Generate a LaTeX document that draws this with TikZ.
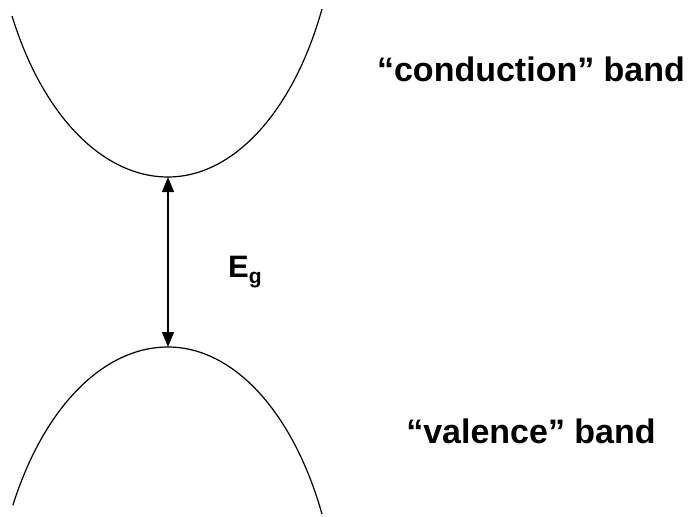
\documentclass[tikz,border=0pt]{standalone}
\usepackage{fontspec}
\setmainfont{Liberation Sans}
\usetikzlibrary{arrows.meta}

\begin{document}
\begin{tikzpicture}[
  x=1pt, y=-1pt,
  band/.style={line width=1.2pt, draw=black},
  gap/.style={{Triangle[length=15pt,width=12pt]}-{Triangle[length=15pt,width=12pt]}, line width=1.2pt},
  lbl/.style={font=\fontsize{34pt}{40pt}\bfseries\selectfont, inner sep=0pt, anchor=base}
]
\useasboundingbox (0,0) rectangle (692,516);
\coordinate (cbot) at (168,177);
\coordinate (vtop) at (168,347);
% bands
\draw[band] (cbot) arc[start angle=90, end angle=152.4, x radius=176, y radius=300];
\draw[band] (cbot) arc[start angle=90, end angle=26.1, x radius=171.5, y radius=300];
\draw[band] (vtop) arc[start angle=-90, end angle=-151.8, x radius=176, y radius=300];
\draw[band] (vtop) arc[start angle=-90, end angle=-26.3, x radius=171.8, y radius=300];
\draw[gap] (cbot) -- (vtop);
\node[lbl] (cond) at (531,82) {“conduction” band};
\node[lbl] (val) at (531,443) {“valence” band};
\node[lbl, anchor=base west, font=\fontsize{31pt}{36pt}\bfseries\selectfont] (eg) at (228,277) {E\raisebox{-6pt}{\fontsize{21pt}{24pt}\selectfont g}};
\end{tikzpicture}
\end{document}
